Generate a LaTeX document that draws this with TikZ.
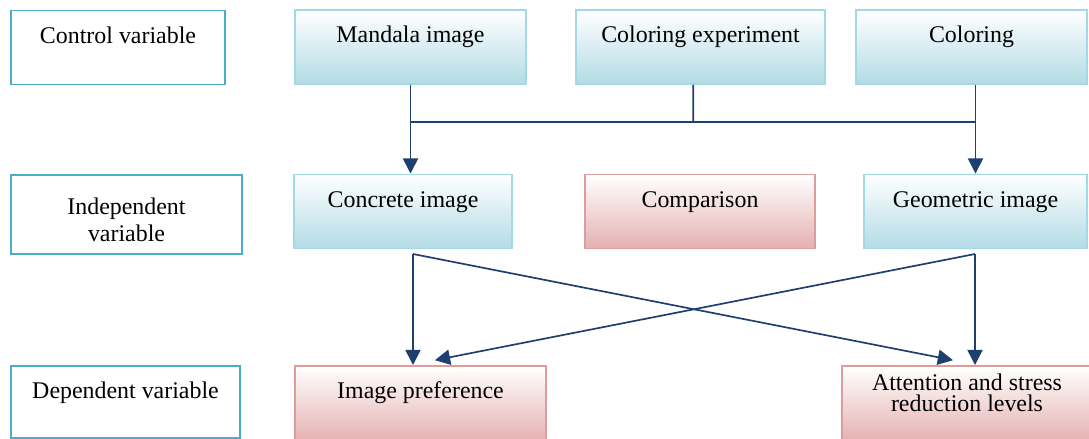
\documentclass[tikz,border=0pt]{standalone}
\usepackage{fontspec}
\setmainfont{Liberation Serif}
\usetikzlibrary{arrows.meta}
\definecolor{varline}{HTML}{4FABCA}
\definecolor{blueline}{HTML}{A3D8E5}
\definecolor{bluefill}{HTML}{B3DBE6}
\definecolor{redline}{HTML}{E09C9C}
\definecolor{redfill}{HTML}{E5B0B0}
\definecolor{linkblue}{HTML}{1F3F6E}
\begin{document}
\begin{tikzpicture}[x=0.025cm,y=-0.025cm,
	box/.style={line width=1.4pt,inner sep=0pt,font=\fontsize{17}{19}\selectfont,text height=0.82cm,text depth=1.03cm},
	varbox/.style={box,draw=varline,fill=white},
	bluebox/.style={box,draw=blueline,top color=white,bottom color=bluefill},
	redbox/.style={box,draw=redline,top color=white,bottom color=redfill},
	link/.style={draw=linkblue,line width=1.2pt},
	arr/.style={link,-{Triangle[width=0.38cm,length=0.38cm]}}]
	\useasboundingbox (0,0) rectangle (1089,439);
	
	% control variable row
	\node[varbox,minimum width=5.35cm] (ctrl) at (118,47.5) {Control variable};
	\node[bluebox,minimum width=5.775cm] (mandala) at (410.5,47) {Mandala image};
	\node[bluebox,minimum width=6.225cm] (colexp) at (700.5,47) {Coloring experiment};
	\node[bluebox,minimum width=5.775cm] (coloring) at (971.5,47) {Coloring};
	
	% independent variable row
	\node[varbox,minimum width=5.775cm,text height=0.99cm,text depth=0.985cm] (indep) at (126.5,214.5) {\begin{tabular}[t]{@{}c@{}}Independent\\variable\end{tabular}};
	\node[bluebox,minimum width=5.45cm] (concrete) at (403,211.5) {Concrete image};
	\node[redbox,minimum width=5.75cm] (comparison) at (700,211.5) {Comparison};
	\node[bluebox,minimum width=5.575cm] (geometric) at (975.5,211.5) {Geometric image};
	
	% dependent variable row
	\node[varbox,minimum width=5.725cm,text depth=0.98cm] (dep) at (125.5,402) {Dependent variable};
	\node[redbox,minimum width=6.275cm,text depth=1.08cm] (pref) at (420.5,404) {Image preference};
	\node[redbox,minimum width=6.25cm,text height=0.6cm,text depth=1.3cm] (attn) at (967,404) {\begin{tabular}[t]{@{}c@{}}Attention and stress\\[-4pt]reduction levels\end{tabular}};
	
	% top connectors
	\coordinate (split) at (693.3,122);
	\draw[link] ([xshift=-0.18cm]colexp.south) -- (split);
	\draw[link] (mandala.south |- split) -- (geometric.north |- split);
	\draw[arr] (mandala.south) -- (mandala.south |- concrete.north);
	\draw[arr] (coloring.south -| geometric.north) -- (geometric.north);
	
	% bottom connectors
	\coordinate (cfork) at (413,254);
	\coordinate (gfork) at (975,254);
	\draw[arr] (cfork) -- (cfork |- pref.north);
	\draw[arr] (gfork) -- (gfork |- attn.north);
	\draw[arr] (cfork) -- ([xshift=-0.35cm,yshift=0.12cm]attn.north);
	\draw[arr] (gfork) -- ([xshift=0.36cm,yshift=0.12cm]pref.north);
\end{tikzpicture}
\end{document}
